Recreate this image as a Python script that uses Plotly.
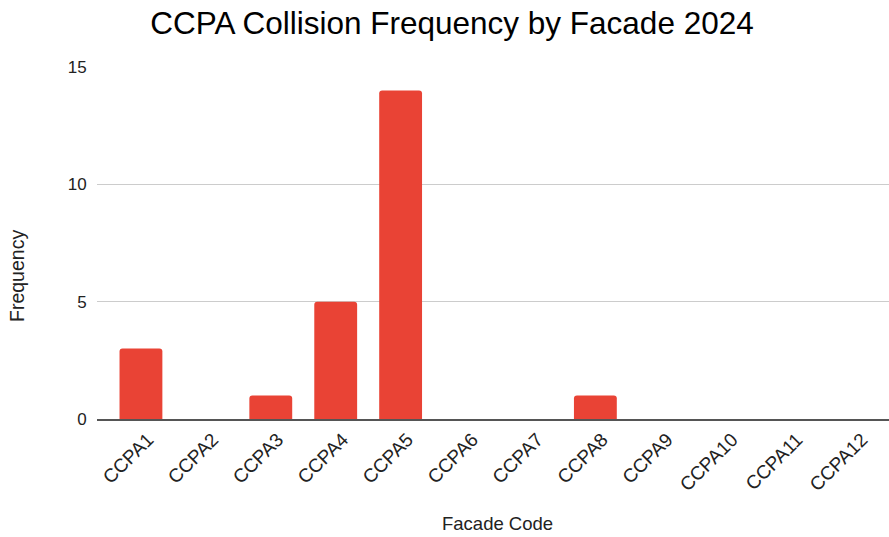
import plotly.graph_objects as go

# Collision counts per facade, 2024
facades = ["CCPA1", "CCPA2", "CCPA3", "CCPA4", "CCPA5", "CCPA6",
           "CCPA7", "CCPA8", "CCPA9", "CCPA10", "CCPA11", "CCPA12"]
frequency = [3, 0, 1, 5, 14, 0, 0, 1, 0, 0, 0, 0]
y_ticks = [0, 5, 10, 15]

FONT = "Liberation Sans, Arial, sans-serif"
TEXT = "#222222"

W, H = 889, 537
M_L, M_R, M_T, M_B = 97, 0, 67, 118
plot_w = W - M_L - M_R
plot_h = H - M_T - M_B

fig = go.Figure(
    go.Bar(
        x=list(range(len(facades))),
        y=frequency,
        marker=dict(color="#E94335", cornerradius=3, line=dict(width=0)),
        hovertext=facades,
        hoverinfo="text+y",
    )
)

fig.update_layout(
    width=W,
    height=H,
    margin=dict(l=M_L, r=M_R, t=M_T, b=M_B),
    paper_bgcolor="white",
    plot_bgcolor="white",
    bargap=0.34,
    showlegend=False,
    font=dict(family=FONT, color=TEXT),
    title=dict(
        text="CCPA Collision Frequency by Facade 2024",
        x=452 / W, xanchor="center",
        y=1 - 23 / H, yanchor="middle",
        font=dict(family=FONT, size=31.5, color="#000000"),
    ),
    xaxis=dict(
        range=[-0.677, 11.523],
        tickvals=list(range(len(facades))),
        ticktext=facades,
        tickangle=-45,
        tickfont=dict(size=19, color=TEXT),
        ticklabelshift=7,
        showgrid=False,
        showline=True,
        linecolor="#555555",
        linewidth=2,
        ticks="",
        zeroline=False,
        fixedrange=True,
    ),
    yaxis=dict(
        range=[0, 15],
        tickvals=y_ticks,
        tickfont=dict(size=17, color=TEXT),
        showgrid=True,
        gridcolor="#CCCCCC",
        gridwidth=1,
        zeroline=False,
        showline=False,
        ticks="outside",
        ticklen=6,
        tickcolor="rgba(0,0,0,0)",
        fixedrange=True,
    ),
)

# axis titles placed in paper coordinates
fig.add_annotation(text="Facade Code", xref="paper", yref="paper",
                   x=(497 - M_L) / plot_w, y=-(523 - (H - M_B)) / plot_h,
                   xanchor="center", yanchor="middle",
                   showarrow=False, font=dict(size=18.5, color=TEXT))
fig.add_annotation(text="Frequency", textangle=-90, xref="paper", yref="paper",
                   x=-(M_L - 17) / plot_w, y=((H - M_B) - 276) / plot_h,
                   xanchor="center", yanchor="middle",
                   showarrow=False, font=dict(size=19.5, color=TEXT))

fig.write_html("out.html")
